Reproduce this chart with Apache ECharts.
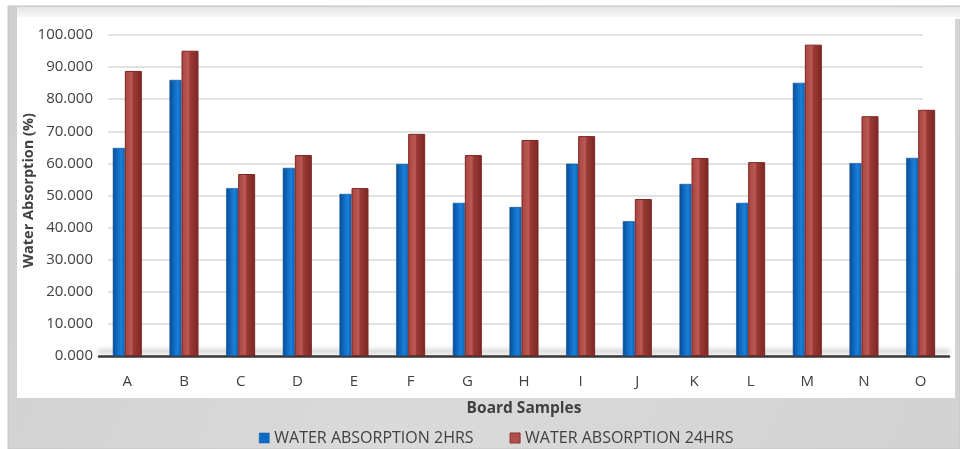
<!DOCTYPE html>
<html>
<head>
<meta charset="utf-8">
<script src="https://cdn.jsdelivr.net/npm/echarts@6/dist/echarts.min.js"></script>
<style>
  html, body { margin: 0; padding: 0; background: #ffffff; }
  #chart { width: 960px; height: 449px; }
</style>
</head>
<body>
<div id="chart"></div>
<script>
// Board samples and their water absorption (%) after 2 h and 24 h of soaking
const samples = ['A', 'B', 'C', 'D', 'E', 'F', 'G', 'H', 'I', 'J', 'K', 'L', 'M', 'N', 'O'];
const absorption2h  = [64.8, 86.0, 52.3, 58.6, 50.5, 59.8, 47.7, 46.4, 59.9, 42.0, 53.6, 47.7, 85.1, 60.1, 61.7];
const absorption24h = [88.8, 95.1, 56.7, 62.6, 52.3, 69.2, 62.6, 67.3, 68.5, 48.9, 61.7, 60.4, 97.0, 74.7, 76.7];
const yTicks = [0, 10, 20, 30, 40, 50, 60, 70, 80, 90, 100];

const seriesNames = ['WATER ABSORPTION 2HRS', 'WATER ABSORPTION 24HRS'];
const FONT = '"Open Sans", "Noto Sans", sans-serif';
const TEXT = '#404040';

// shaded column faces (front + side) for a box look
const blueFill = new echarts.graphic.LinearGradient(0, 0, 1, 0, [
  { offset: 0, color: '#0a4a8c' },
  { offset: 0.28, color: '#0d63b8' },
  { offset: 0.7, color: '#1a80da' },
  { offset: 1, color: '#0b5eae' }
]);
const redFill = new echarts.graphic.LinearGradient(0, 0, 1, 0, [
  { offset: 0, color: '#a8433e' },
  { offset: 0.42, color: '#bb5a55' },
  { offset: 0.5, color: '#9a3a36' },
  { offset: 0.75, color: '#8c312d' },
  { offset: 1, color: '#7a2724' }
]);

const chart = echarts.init(document.getElementById('chart'), null, { renderer: 'canvas' });

const option = {
  animation: false,
  backgroundColor: '#ffffff',
  textStyle: { fontFamily: FONT },
  graphic: [
    {
      type: 'rect', z: -100, silent: true,
      shape: { x: 8, y: 6, width: 952, height: 443 },
      style: {
        fill: new echarts.graphic.LinearGradient(0, 0, 1, 1, [
          { offset: 0, color: '#cfcfcf' },
          { offset: 0.5, color: '#dadada' },
          { offset: 1, color: '#d2d2d2' }
        ]),
        stroke: '#c4c4c4', lineWidth: 1
      }
    },
    {
      type: 'rect', z: -99, silent: true,
      shape: { x: 17, y: 7, width: 943, height: 12 },
      style: {
        fill: new echarts.graphic.LinearGradient(0, 0, 0, 1, [
          { offset: 0, color: '#e6e6e6' },
          { offset: 1, color: '#fbfbfb' }
        ])
      }
    },
    {
      type: 'rect', z: -98, silent: true,
      shape: { x: 17, y: 17, width: 938, height: 381 },
      style: { fill: '#ffffff' }
    }
  ],
  legend: {
    left: 254,
    top: 425,
    itemWidth: 10,
    itemHeight: 10,
    itemGap: 36,
    icon: 'rect',
    textStyle: { color: TEXT, fontSize: 16, fontFamily: FONT },
    data: [
      { name: seriesNames[0], itemStyle: { color: '#0b6bc8', borderColor: '#0a55a0', borderWidth: 0.5 } },
      { name: seriesNames[1], itemStyle: { color: '#b0504b', borderColor: '#8a2e2a', borderWidth: 1 } }
    ]
  },
  grid: [
    // value scale, labels and gridlines
    { left: 108, right: 37, top: 35, bottom: 93 },
    // columns and category axis
    { left: 99, right: 11, top: 35, bottom: 93 }
  ],
  xAxis: [
    { type: 'category', gridIndex: 0, data: samples, show: false },
    {
      type: 'category', gridIndex: 1, data: samples,
      axisTick: { show: false },
      axisLine: {
        lineStyle: {
          color: '#3a3a3a', width: 2.5,
          shadowColor: 'rgba(120,120,120,0.6)', shadowBlur: 5, shadowOffsetY: -5
        }
      },
      axisLabel: { color: TEXT, fontSize: 15, fontFamily: FONT, margin: 18 },
      name: 'Board Samples',
      nameLocation: 'middle',
      nameGap: 45,
      nameTextStyle: { color: TEXT, fontSize: 15.5, fontWeight: 'bold', fontFamily: FONT }
    }
  ],
  yAxis: [
    {
      type: 'value', gridIndex: 0,
      min: yTicks[0], max: yTicks[yTicks.length - 1], interval: yTicks[1] - yTicks[0],
      axisLine: { show: false },
      axisTick: { show: false },
      axisLabel: {
        color: TEXT, fontSize: 15, fontFamily: FONT, margin: 15,
        formatter: v => v.toFixed(3)
      },
      splitLine: { lineStyle: { color: '#d9d9d9', width: 1.6 } },
      name: 'Water Absorption (%)',
      nameLocation: 'middle',
      nameMoveOverlap: false,
      nameGap: 72,
      nameTextStyle: {
        color: TEXT, fontSize: 14.5, fontWeight: 'bold', fontFamily: FONT,
        padding: [0, 0, 0, 10]
      }
    },
    {
      type: 'value', gridIndex: 1,
      min: yTicks[0], max: yTicks[yTicks.length - 1], interval: yTicks[1] - yTicks[0],
      show: false
    }
  ],
  series: [
    {
      name: seriesNames[0],
      type: 'bar',
      xAxisIndex: 1, yAxisIndex: 1,
      data: absorption2h,
      barWidth: 12,
      barGap: '0%',
      itemStyle: { color: blueFill, borderColor: '#0a4f96', borderWidth: 0.6 }
    },
    {
      name: seriesNames[1],
      type: 'bar',
      xAxisIndex: 1, yAxisIndex: 1,
      data: absorption24h,
      barWidth: 17,
      itemStyle: { color: redFill, borderColor: '#7e2623', borderWidth: 1 }
    }
  ]
};

chart.setOption(option);
</script>
</body>
</html>
